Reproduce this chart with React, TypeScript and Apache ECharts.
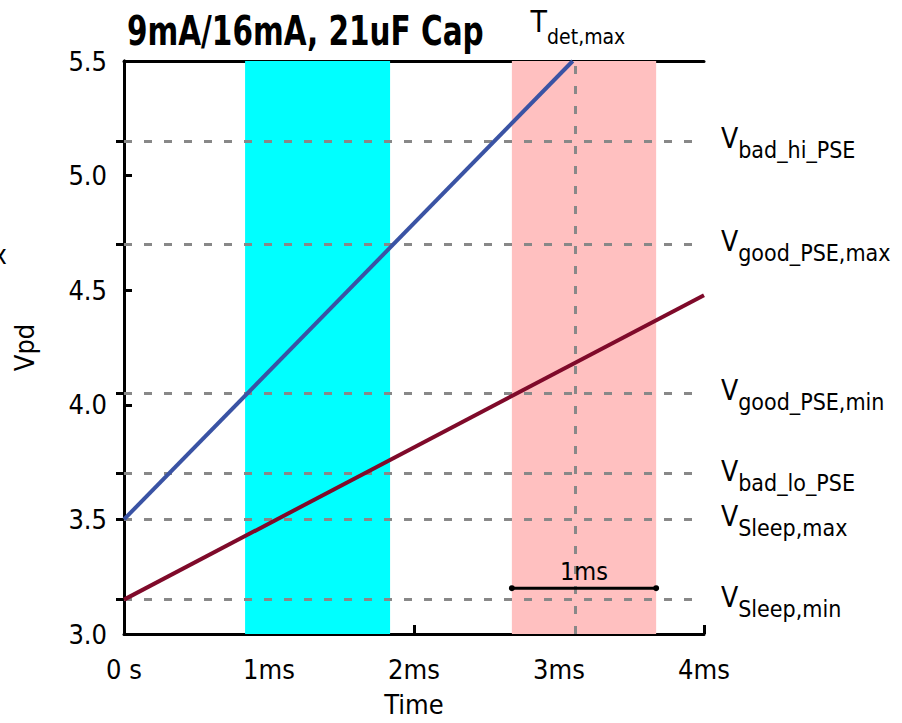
import React, { useEffect, useRef } from "react";
import * as echarts from "echarts";

const FONT = "'Liberation Sans Narrow', 'DejaVu Sans Condensed', 'Roboto Condensed', Arial, sans-serif";

const titleText = "9mA/16mA, 21uF Cap";
const xName = "Time";
const yName = "Vpd";
const refLevels = [5.15, 4.7, 4.05, 3.7, 3.5, 3.15];
const refSubs = ["bad_hi_PSE", "good_PSE,max", "good_PSE,min", "bad_lo_PSE", "Sleep,max", "Sleep,min"];
const tDetMax = 3.11;
const tDetSub = "det,max";
const cyanBand = [0.835, 1.835];
const pinkBand = [2.675, 3.67];
const blueLine = [[0, 3.5], [3.095, 5.5]];
const redLine = [[0, 3.15], [4, 4.478]];
const scaleBar = [[2.675, 3.2], [3.67, 3.2]];
const scaleBarLabel = "1ms";

const richRight = {
  v: { fontSize: 28, fontFamily: FONT, color: "#000", verticalAlign: "top", lineHeight: 28 },
  s: { fontSize: 23, fontFamily: FONT, color: "#000", verticalAlign: "bottom", padding: [14, 0, 0, 0] },
};
const richTop = {
  v: { fontSize: 30, fontFamily: FONT, color: "#000", verticalAlign: "top", lineHeight: 30 },
  s: { fontSize: 21, fontFamily: FONT, color: "#000", verticalAlign: "bottom", padding: [20, 0, 0, 0] },
};

export default function App() {
  const ref = useRef<HTMLDivElement>(null);
  useEffect(() => {
    const chart = echarts.init(ref.current!, undefined, { renderer: "svg" });
    const dash = { color: "#888", width: 3, type: [8, 12] as any };
    chart.setOption({
      animation: false,
      backgroundColor: "#fff",
      graphic: [
        {
          type: "text",
          x: 127,
          y: 11,
          scaleX: 0.82,
          style: { text: titleText, font: `bold 40px ${FONT}`, fill: "#000" },
        },
        { type: "text", left: -7, top: 242, style: { text: "x", font: `26px ${FONT}`, fill: "#000" } },
      ],
      grid: { left: 124, width: 580, top: 61, height: 579 },
      xAxis: [
        {
          type: "value",
          min: 0,
          max: 4,
          interval: 1,
          name: xName,
          nameLocation: "middle",
          nameGap: 57,
          nameTextStyle: { fontFamily: FONT, fontSize: 27, color: "#000" },
          axisLine: { show: true, lineStyle: { color: "#000", width: 3 } },
          axisTick: { show: true, inside: true, length: 9, lineStyle: { color: "#000", width: 3 } },
          axisLabel: {
            margin: 22,
            fontFamily: FONT,
            fontSize: 27,
            color: "#000",
            formatter: (v: number) => (v === 0 ? "0 s" : `${v}ms`),
          },
          splitLine: { show: false },
        },
        {
          type: "value",
          position: "top",
          min: 0,
          max: 4,
          axisLine: { show: true, lineStyle: { color: "#000", width: 3 } },
          axisTick: { show: true, inside: true, length: 9, customValues: [tDetMax], lineStyle: { color: "#000", width: 3 } },
          axisLabel: { show: false },
          splitLine: { show: false },
        },
      ],
      yAxis: [
        {
          type: "value",
          min: 3,
          max: 5.5,
          interval: 0.5,
          name: yName,
          nameLocation: "middle",
          nameGap: 86,
          nameTextStyle: { fontFamily: FONT, fontSize: 27, color: "#000" },
          axisLine: { show: true, lineStyle: { color: "#000", width: 3 } },
          axisTick: { show: true, inside: true, length: 8, lineStyle: { color: "#000", width: 3 } },
          axisLabel: {
            margin: 17,
            fontFamily: FONT,
            fontSize: 27,
            color: "#000",
            formatter: (v: number) => v.toFixed(1),
          },
          splitLine: { show: false },
        },
        {
          type: "value",
          position: "right",
          min: 3,
          max: 5.5,
          axisLine: { show: true, lineStyle: { color: "#000", width: 3 } },
          axisTick: { show: true, inside: true, length: 8, customValues: refLevels, lineStyle: { color: "#000", width: 3 } },
          axisLabel: { show: false },
          splitLine: { show: false },
        },
      ],
      series: [
        {
          type: "line",
          name: "bands",
          data: [],
          markArea: {
            silent: true,
            data: [
              [{ xAxis: cyanBand[0], itemStyle: { color: "#00ffff", opacity: 1 } }, { xAxis: cyanBand[1] }],
              [{ xAxis: pinkBand[0], itemStyle: { color: "#ffc0c0", opacity: 1 } }, { xAxis: pinkBand[1] }],
            ],
          },
          markLine: {
            silent: true,
            symbol: ["none", "none"],
            lineStyle: dash,
            label: { show: true, position: "end", distance: 17, offset: [0, 2], rich: richRight },
            data: [
              ...refLevels.map((y, i) => ({
                yAxis: y,
                label: { formatter: `{v|V}{s|${refSubs[i]}}` },
              })),
              {
                xAxis: tDetMax,
                label: { formatter: `{v|T}{s|${tDetSub}}`, distance: 14, offset: [3, 0], rich: richTop },
              },
            ],
          },
        },
        {
          type: "line",
          name: "16mA",
          data: blueLine,
          showSymbol: false,
          lineStyle: { color: "#3a53a4", width: 4 },
          z: 5,
        },
        {
          type: "line",
          name: "9mA",
          data: redLine,
          showSymbol: false,
          lineStyle: { color: "#7f0a2a", width: 4 },
          z: 5,
        },
        {
          type: "line",
          name: "scale",
          data: scaleBar,
          symbol: "circle",
          symbolSize: 6,
          itemStyle: { color: "#000" },
          lineStyle: { color: "#000", width: 3 },
          z: 6,
          markPoint: {
            symbol: "circle",
            symbolSize: 0,
            data: [{ coord: [(scaleBar[0][0] + scaleBar[1][0]) / 2, scaleBar[0][1]] }],
            label: {
              show: true,
              position: "top",
              distance: 4,
              formatter: scaleBarLabel,
              fontFamily: FONT,
              fontSize: 25,
              color: "#000",
            },
          },
        },
      ],
    });
    return () => chart.dispose();
  }, []);
  return <div ref={ref} style={{ position: "fixed", left: 0, top: 0, width: 902, height: 723 }} />;
}
